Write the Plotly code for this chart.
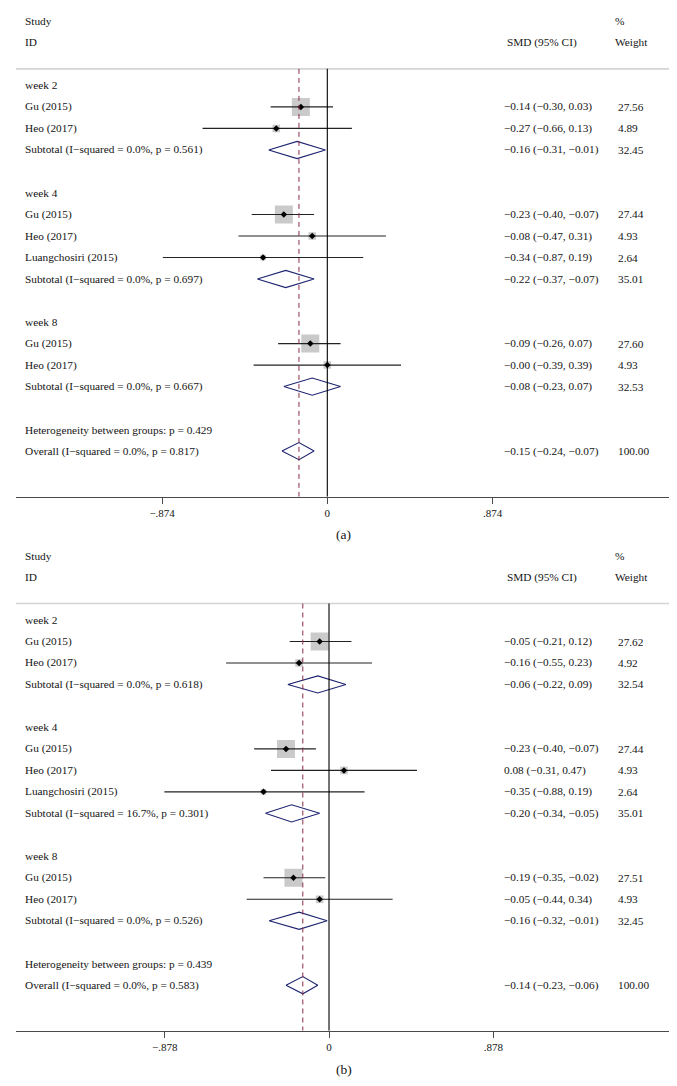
import math
import plotly.graph_objects as go

# ---------------- data ----------------
row_kinds = ["group", "study", "study", "sub", "blank",
             "group", "study", "study", "study", "sub", "blank",
             "group", "study", "study", "sub", "blank",
             "text", "sub"]

A_labels = ["week 2", "Gu (2015)", "Heo (2017)", "Subtotal (I−squared = 0.0%, p = 0.561)", "",
            "week 4", "Gu (2015)", "Heo (2017)", "Luangchosiri (2015)", "Subtotal (I−squared = 0.0%, p = 0.697)", "",
            "week 8", "Gu (2015)", "Heo (2017)", "Subtotal (I−squared = 0.0%, p = 0.667)", "",
            "Heterogeneity between groups: p = 0.429", "Overall (I−squared = 0.0%, p = 0.817)"]
A_est = [None, -0.14, -0.27, -0.16, None,
         None, -0.23, -0.08, -0.34, -0.22, None,
         None, -0.09, -0.00, -0.08, None,
         None, -0.15]
A_lo = [None, -0.30, -0.66, -0.31, None,
        None, -0.40, -0.47, -0.87, -0.37, None,
        None, -0.26, -0.39, -0.23, None,
        None, -0.24]
A_hi = [None, 0.03, 0.13, -0.01, None,
        None, -0.07, 0.31, 0.19, -0.07, None,
        None, 0.07, 0.39, 0.07, None,
        None, -0.07]
A_weight = [None, 27.56, 4.89, 32.45, None,
            None, 27.44, 4.93, 2.64, 35.01, None,
            None, 27.60, 4.93, 32.53, None,
            None, 100.00]
A_ticks = [-0.874, 0, 0.874]
A_ticktext = ["−.874", "0", ".874"]

B_labels = ["week 2", "Gu (2015)", "Heo (2017)", "Subtotal (I−squared = 0.0%, p = 0.618)", "",
            "week 4", "Gu (2015)", "Heo (2017)", "Luangchosiri (2015)", "Subtotal (I−squared = 16.7%, p = 0.301)", "",
            "week 8", "Gu (2015)", "Heo (2017)", "Subtotal (I−squared = 0.0%, p = 0.526)", "",
            "Heterogeneity between groups: p = 0.439", "Overall (I−squared = 0.0%, p = 0.583)"]
B_est = [None, -0.05, -0.16, -0.06, None,
         None, -0.23, 0.08, -0.35, -0.20, None,
         None, -0.19, -0.05, -0.16, None,
         None, -0.14]
B_lo = [None, -0.21, -0.55, -0.22, None,
        None, -0.40, -0.31, -0.88, -0.34, None,
        None, -0.35, -0.44, -0.32, None,
        None, -0.23]
B_hi = [None, 0.12, 0.23, 0.09, None,
        None, -0.07, 0.47, 0.19, -0.05, None,
        None, -0.02, 0.34, -0.01, None,
        None, -0.06]
B_weight = [None, 27.62, 4.92, 32.54, None,
            None, 27.44, 4.93, 2.64, 35.01, None,
            None, 27.51, 4.93, 32.45, None,
            None, 100.00]
B_ticks = [-0.878, 0, 0.878]
B_ticktext = ["−.878", "0", ".878"]

panel_tags = ["(a)", "(b)"]

# ---------------- layout constants ----------------
W, H = 677, 1086
FONT = "Liberation Serif"
TXT = "#141414"
FS = 11.3
PX_L, PX_R = 8, 669
X_LABEL = 15 / W
X_SMD = 494 / W
X_SMD_HEAD = 497 / W
X_WT = 608 / W
X_WT_HEAD = 605 / W
Y_RANGE = [18.12, -4.6]
SEP_K = -1.77
AXIS_K = 18.12

panels = [
    dict(labels=A_labels, est=A_est, lo=A_lo, hi=A_hi, wt=A_weight, ticks=A_ticks, ticktext=A_ticktext,
         xrange=[-1.647, 1.850], ydom=[1 - 488.7 / H, 1.0], tag_y=1 - 526.7 / H),
    dict(labels=B_labels, est=B_est, lo=B_lo, hi=B_hi, wt=B_weight, ticks=B_ticks, ticktext=B_ticktext,
         xrange=[-1.673, 1.860], ydom=[1 - 1022.7 / H, 1 - 534.7 / H], tag_y=1 - 1061.7 / H),
]


def fmt(v):
    return f"{v:.2f}".replace("-", "−")


fig = go.Figure()
annotations = []
shapes = []

for p_i, p in enumerate(panels):
    sfx = "" if p_i == 0 else "2"
    xa, ya = "x" + sfx, "y" + sfx
    ks = [i - 1 for i in range(len(row_kinds))]

    cx, cy = [], []
    sx, sy, ss = [], [], []
    for k, kind, e, lo, hi, w in zip(ks, row_kinds, p["est"], p["lo"], p["hi"], p["wt"]):
        if kind == "study":
            cx += [lo, hi, None]
            cy += [k, k, None]
            sx.append(e)
            sy.append(k)
            ss.append(3.43 * math.sqrt(w))
    fig.add_trace(go.Scatter(x=sx, y=sy, mode="markers", xaxis=xa, yaxis=ya,
                             marker=dict(symbol="square", size=ss, color="#b4b4b4", line=dict(width=0)),
                             hoverinfo="skip", showlegend=False))
    fig.add_trace(go.Scatter(x=cx, y=cy, mode="lines", xaxis=xa, yaxis=ya,
                             line=dict(color="#222222", width=1.2), hoverinfo="skip", showlegend=False))
    fig.add_trace(go.Scatter(x=sx, y=sy, mode="markers", xaxis=xa, yaxis=ya,
                             marker=dict(symbol="diamond", size=5, color="black"),
                             hoverinfo="skip", showlegend=False))

    dx, dy = [], []
    for k, kind, e, lo, hi in zip(ks, row_kinds, p["est"], p["lo"], p["hi"]):
        if kind == "sub":
            dx += [lo, e, hi, e, lo, None]
            dy += [k, k - 0.4, k, k + 0.4, k, None]
    fig.add_trace(go.Scatter(x=dx, y=dy, mode="lines", xaxis=xa, yaxis=ya,
                             line=dict(color="#1e2470", width=1.1), hoverinfo="skip", showlegend=False))

    shapes.append(dict(type="line", xref=xa + " domain", yref=ya, x0=0, x1=1, y0=SEP_K, y1=SEP_K,
                       line=dict(color="#d4d4d4", width=1.6)))
    shapes.append(dict(type="line", xref=xa, yref=ya, x0=0, x1=0, y0=SEP_K, y1=AXIS_K,
                       line=dict(color="black", width=1.1)))
    ov = p["est"][-1]
    shapes.append(dict(type="line", xref=xa, yref=ya, x0=ov, x1=ov, y0=SEP_K, y1=AXIS_K,
                       line=dict(color="#8c2d45", width=1, dash="5px,4px")))

    def ann(x, y, text, xanchor="left", size=FS, yref=ya):
        annotations.append(dict(x=x, y=y, xref="paper", yref=yref, text=text, showarrow=False,
                                xanchor=xanchor, yanchor="middle",
                                font=dict(family=FONT, size=size, color=TXT)))

    ann(X_LABEL, -4, "Study")
    ann(X_LABEL, -3, "ID")
    ann(X_SMD_HEAD, -3, "SMD (95% CI)")
    ann(X_WT_HEAD, -4, "%")
    ann(X_WT_HEAD, -3, "Weight")

    for k, kind, lab, e, lo, hi, w in zip(ks, row_kinds, p["labels"], p["est"], p["lo"], p["hi"], p["wt"]):
        if lab:
            ann(X_LABEL, k, lab)
        if kind in ("study", "sub"):
            ann(X_SMD, k, f"{fmt(e)} ({fmt(lo)}, {fmt(hi)})")
            ann(X_WT, k, f"{w:.2f}")

    annotations.append(dict(x=0.496, y=p["tag_y"], xref="paper", yref="paper", text=panel_tags[p_i],
                            showarrow=False, xanchor="center", yanchor="middle",
                            font=dict(family=FONT, size=13.5, color=TXT)))

    xaxis_cfg = dict(domain=[PX_L / W, PX_R / W], range=p["xrange"], anchor=ya,
                     showgrid=False, zeroline=False, showline=True, linecolor="#4a4a4a", linewidth=1.4,
                     ticks="outside", ticklen=6, tickwidth=1, tickcolor="#4a4a4a",
                     tickvals=p["ticks"], ticktext=p["ticktext"],
                     tickfont=dict(family=FONT, size=11, color=TXT), fixedrange=True)
    yaxis_cfg = dict(domain=p["ydom"], range=Y_RANGE, anchor=xa, visible=False, showgrid=False,
                     zeroline=False, fixedrange=True)
    fig.layout["xaxis" + sfx] = xaxis_cfg
    fig.layout["yaxis" + sfx] = yaxis_cfg

fig.update_layout(width=W, height=H, autosize=False, margin=dict(l=0, r=0, t=0, b=0),
                  plot_bgcolor="white", paper_bgcolor="white", showlegend=False,
                  annotations=annotations, shapes=shapes)

fig.write_html("out.html")
